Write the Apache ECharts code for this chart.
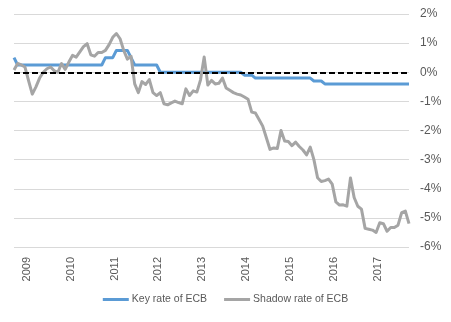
<!DOCTYPE html>
<html>
<head>
<meta charset="utf-8">
<script src="https://cdn.jsdelivr.net/npm/echarts@6/dist/echarts.min.js"></script>
<style>html,body{margin:0;padding:0;background:#fff}#c{width:451px;height:322px}</style>
</head>
<body>
<div id="c"></div>
<script>
// Monthly observations, March 2009 (index 0) to March 2018 (index 108)
var yearLabels = ['2009','2010','2011','2012','2013','2014','2015','2016','2017'];
var yearLabelPos = [3.5, 15.5, 27.5, 39.5, 51.5, 63.5, 75.5, 87.5, 99.5];
var yTicks = [-6, -5, -4, -3, -2, -1, 0, 1, 2];

var keyRate = [
  0.5,
  0.25,0.25,0.25,0.25,0.25,0.25,0.25,0.25,0.25,0.25,0.25,0.25,
  0.25,0.25,0.25,0.25,0.25,0.25,0.25,0.25,0.25,0.25,0.25,0.25,
  0.5,0.5,0.5,
  0.75,0.75,0.75,0.75,
  0.5,
  0.25,0.25,0.25,0.25,0.25,0.25,0.25,
  0,0,0,0,0,0,0,0,0,0,0,0,0,0,0,0,0,0,0,0,0,0,0,
  -0.1,-0.1,-0.1,
  -0.2,-0.2,-0.2,-0.2,-0.2,-0.2,-0.2,-0.2,-0.2,-0.2,-0.2,-0.2,-0.2,-0.2,-0.2,-0.2,
  -0.3,-0.3,-0.3,
  -0.4,-0.4,-0.4,-0.4,-0.4,-0.4,-0.4,-0.4,-0.4,-0.4,-0.4,-0.4,
  -0.4,-0.4,-0.4,-0.4,-0.4,-0.4,-0.4,-0.4,-0.4,-0.4,-0.4,-0.4
];

var shadowRate = [
  0.08,0.3,0.25,0.18,-0.3,-0.75,-0.5,-0.2,0.0,0.12,
  0.18,0.05,0.0,0.3,0.1,0.35,0.58,0.52,0.7,0.88,
  0.98,0.6,0.55,0.68,0.68,0.75,0.95,1.2,1.33,1.15,
  0.75,0.45,0.55,-0.4,-0.7,-0.32,-0.42,-0.25,-0.7,-0.8,
  -0.7,-1.08,-1.12,-1.05,-0.99,-1.04,-1.08,-0.57,-0.8,-0.64,
  -0.68,-0.26,0.52,-0.44,-0.28,-0.4,-0.38,-0.2,-0.54,-0.62,
  -0.7,-0.75,-0.78,-0.85,-0.93,-1.37,-1.4,-1.62,-1.85,-2.25,
  -2.65,-2.6,-2.62,-2.0,-2.36,-2.38,-2.52,-2.4,-2.55,-2.67,
  -2.84,-2.57,-3.0,-3.62,-3.75,-3.72,-3.67,-3.84,-4.45,-4.56,
  -4.55,-4.6,-3.63,-4.3,-4.6,-4.7,-5.36,-5.39,-5.42,-5.5,
  -5.17,-5.2,-5.46,-5.33,-5.33,-5.25,-4.82,-4.77,-5.2
];

function pairs(arr){ return arr.map(function(v,i){ return [i,v]; }); }

var chart = echarts.init(document.getElementById('c'), null, {renderer:'canvas'});
var font = 'Liberation Sans, Arial, sans-serif';
chart.setOption({
  animation: false,
  grid: { left: 14, right: 42, top: 14, bottom: 75, containLabel: false },
  xAxis: {
    type: 'value', min: 0, max: keyRate.length - 1,
    axisLine: { show: false }, axisTick: { show: false }, splitLine: { show: false },
    axisLabel: {
      customValues: yearLabelPos,
      rotate: 90, margin: 10, color: '#595959', fontSize: 11, fontFamily: font,
      formatter: function(v){ return yearLabels[Math.round((v - 3.5) / 12)]; }
    }
  },
  yAxis: {
    type: 'value', position: 'right', min: -6, max: 2, interval: 1,
    axisLine: { show: false }, axisTick: { show: false },
    splitLine: { lineStyle: { color: '#D9D9D9', width: 1 } },
    axisLabel: { color: '#595959', fontSize: 12, fontFamily: font, margin: 11,
      formatter: function(v){ return v + '%'; } }
  },
  legend: {
    bottom: 12, left: 'center', itemWidth: 26, itemHeight: 3, itemGap: 17,
    icon: 'rect', textStyle: { color: '#595959', fontSize: 10.5, fontFamily: font, padding:[0,0,0,-2] },
    data: ['Key rate of ECB', 'Shadow rate of ECB']
  },
  series: [
    {
      name: 'Key rate of ECB', type: 'line', data: pairs(keyRate), z: 2,
      showSymbol: false, symbol: 'none', color: '#5B9BD5',
      lineStyle: { color: '#5B9BD5', width: 3, join: 'round' },
      markLine: {
        silent: true, symbol: 'none', label: { show: false },
        lineStyle: { color: '#000', type: [6, 3], width: 2 },
        data: [{ yAxis: 0 }]
      }
    },
    {
      name: 'Shadow rate of ECB', type: 'line', data: pairs(shadowRate), z: 4,
      showSymbol: false, symbol: 'none', color: '#A5A5A5',
      lineStyle: { color: '#A5A5A5', width: 3, join: 'round' }
    }
  ]
});
</script>
</body>
</html>
